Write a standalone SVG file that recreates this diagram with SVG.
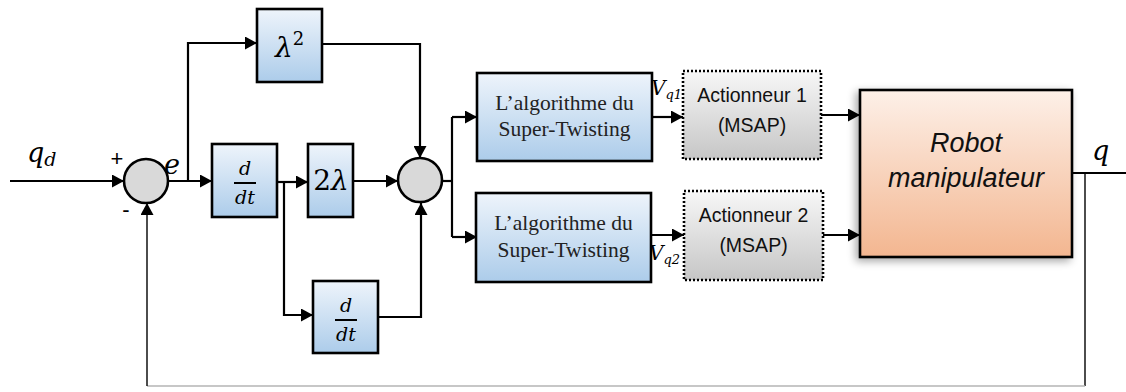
<svg xmlns="http://www.w3.org/2000/svg" width="1126" height="392" viewBox="0 0 1126 392">
<style>
.c{fill:none;stroke:#000;stroke-width:2.2}
.thin{fill:none;stroke:#000;stroke-width:1.4}
.blue{fill:url(#gBlue);stroke:#000;stroke-width:2.6}
.gray{fill:url(#gGray);stroke:#000;stroke-width:2.6;stroke-dasharray:2 2}
.sum{fill:#d9d9d9;stroke:#000;stroke-width:2.6}
.st{font-family:"Liberation Serif",serif;font-size:21.5px;fill:#222;text-anchor:middle}
.act{font-family:"Liberation Sans",sans-serif;font-size:19.5px;fill:#111;text-anchor:middle}
.m{font-family:"DejaVu Serif","Liberation Serif",serif;font-style:italic;fill:#000}
.sg{font-family:"Liberation Sans",sans-serif;font-size:22px;fill:#000;text-anchor:middle}
.rb{font-family:"Liberation Sans",sans-serif;font-style:italic;font-size:27px;fill:#111;text-anchor:middle}
</style>
<defs>
<linearGradient id="gBlue" x1="0" y1="0" x2="0" y2="1"><stop offset="0" stop-color="#eef4fb"/><stop offset="1" stop-color="#acccea"/></linearGradient>
<linearGradient id="gGray" x1="0" y1="0" x2="0" y2="1"><stop offset="0" stop-color="#f7f7f7"/><stop offset="1" stop-color="#c6c6c6"/></linearGradient>
<linearGradient id="gRobot" x1="0" y1="0" x2="0" y2="1"><stop offset="0" stop-color="#fdf0e8"/><stop offset="1" stop-color="#f3b690"/></linearGradient>
<filter id="sh" x="-10%" y="-10%" width="125%" height="125%"><feGaussianBlur in="SourceAlpha" stdDeviation="4"/><feOffset dx="-3" dy="3"/><feComponentTransfer><feFuncA type="linear" slope="0.35"/></feComponentTransfer><feMerge><feMergeNode/><feMergeNode in="SourceGraphic"/></feMerge></filter>
<marker id="ar" markerUnits="userSpaceOnUse" markerWidth="13" markerHeight="13" refX="12" refY="6.5" orient="auto"><path d="M0,0 L12,6.5 L0,13 z" fill="#000"/></marker>
</defs>

<g id="connectors">
<path class="c" d="M10,181 H124" marker-end="url(#ar)"/>
<path class="c" d="M168,181 H212" marker-end="url(#ar)"/>
<path class="c" d="M188,181 V43 H257" marker-end="url(#ar)"/>
<path class="c" d="M322,44 H420 V158" marker-end="url(#ar)"/>
<path class="c" d="M277,182 H308" marker-end="url(#ar)"/>
<path class="c" d="M284,182 V315 H313" marker-end="url(#ar)"/>
<path class="c" d="M353,181 H398" marker-end="url(#ar)"/>
<path class="c" d="M378,317 H421 V203" marker-end="url(#ar)"/>
<path class="c" d="M442,181 H452"/>
<path class="c" d="M452,117 V237"/>
<path class="c" d="M452,117 H477" marker-end="url(#ar)"/>
<path class="c" d="M452,237 H477" marker-end="url(#ar)"/>
<path class="c" d="M652,117 H683" marker-end="url(#ar)"/>
<path class="c" d="M651,235 H684" marker-end="url(#ar)"/>
<path class="c" d="M821,115 H860" marker-end="url(#ar)"/>
<path class="c" d="M823,235 H860" marker-end="url(#ar)"/>
<path class="c" d="M1072,173 H1126"/>
<path class="thin" d="M1085,173 V386"/>
<path fill="none" stroke="#b5b5b5" stroke-width="1.4" d="M1085,386 H147"/>
<path class="thin" d="M147,386 V203" marker-end="url(#ar)"/>
</g>

<g id="labels">
<text class="m" x="27" y="162" font-size="27">q<tspan font-size="19" dy="4">d</tspan></text>
<text class="sg" x="117" y="166">+</text>
<text class="sg" x="126" y="217">-</text>
<text class="m" x="164" y="174" font-size="27">e</text>
<text class="m" x="651" y="95" font-size="20">V<tspan font-size="13" dy="4">q1</tspan></text>
<text class="m" x="649" y="260" font-size="20">V<tspan font-size="13" dy="4">q2</tspan></text>
<text class="m" x="1092" y="160" font-size="27">q</text>
</g>

<g id="sum1"><circle class="sum" cx="146" cy="181" r="22"/></g>
<g id="sum2"><circle class="sum" cx="420" cy="180" r="22"/></g>

<g id="lambda2">
<rect class="blue" x="257" y="9" width="65" height="73"/>
<text class="m" x="275" y="57" font-size="28">λ<tspan font-style="normal" font-size="18" dy="-12">2</tspan></text>
</g>

<g id="ddt1">
<rect class="blue" x="212" y="144" width="65" height="73"/>
<text class="m" x="245" y="175" font-size="19" text-anchor="middle">d</text>
<line x1="234" y1="183" x2="256" y2="183" stroke="#000" stroke-width="2"/>
<text class="m" x="245" y="204" font-size="19" text-anchor="middle">dt</text>
</g>

<g id="twolambda">
<rect class="blue" x="308" y="144" width="45" height="73"/>
<text class="m" x="331" y="190" font-size="28" text-anchor="middle"><tspan font-style="normal">2</tspan>λ</text>
</g>

<g id="ddt2">
<rect class="blue" x="313" y="281" width="65" height="72"/>
<text class="m" x="346" y="312" font-size="19" text-anchor="middle">d</text>
<line x1="335" y1="320" x2="357" y2="320" stroke="#000" stroke-width="2"/>
<text class="m" x="346" y="341" font-size="19" text-anchor="middle">dt</text>
</g>

<g id="st1">
<rect class="blue" x="477" y="73" width="175" height="88"/>
<text class="st" x="564.5" y="110">L’algorithme du</text>
<text class="st" x="564.5" y="136">Super-Twisting</text>
</g>

<g id="st2">
<rect class="blue" x="476" y="193" width="175" height="89"/>
<text class="st" x="563.5" y="230">L’algorithme du</text>
<text class="st" x="563.5" y="257">Super-Twisting</text>
</g>

<g id="act1">
<rect class="gray" x="683" y="71" width="138" height="88"/>
<text class="act" x="752" y="102">Actionneur 1</text>
<text class="act" x="752" y="132">(MSAP)</text>
</g>

<g id="act2">
<rect class="gray" x="684" y="191" width="139" height="89"/>
<text class="act" x="753.5" y="222">Actionneur 2</text>
<text class="act" x="753.5" y="252">(MSAP)</text>
</g>

<g id="robot">
<rect x="860" y="90" width="212" height="167" fill="url(#gRobot)" stroke="#000" stroke-width="2.6" filter="url(#sh)"/>
<text class="rb" x="966" y="152">Robot</text>
<text class="rb" x="966" y="187">manipulateur</text>
</g>
</svg>
